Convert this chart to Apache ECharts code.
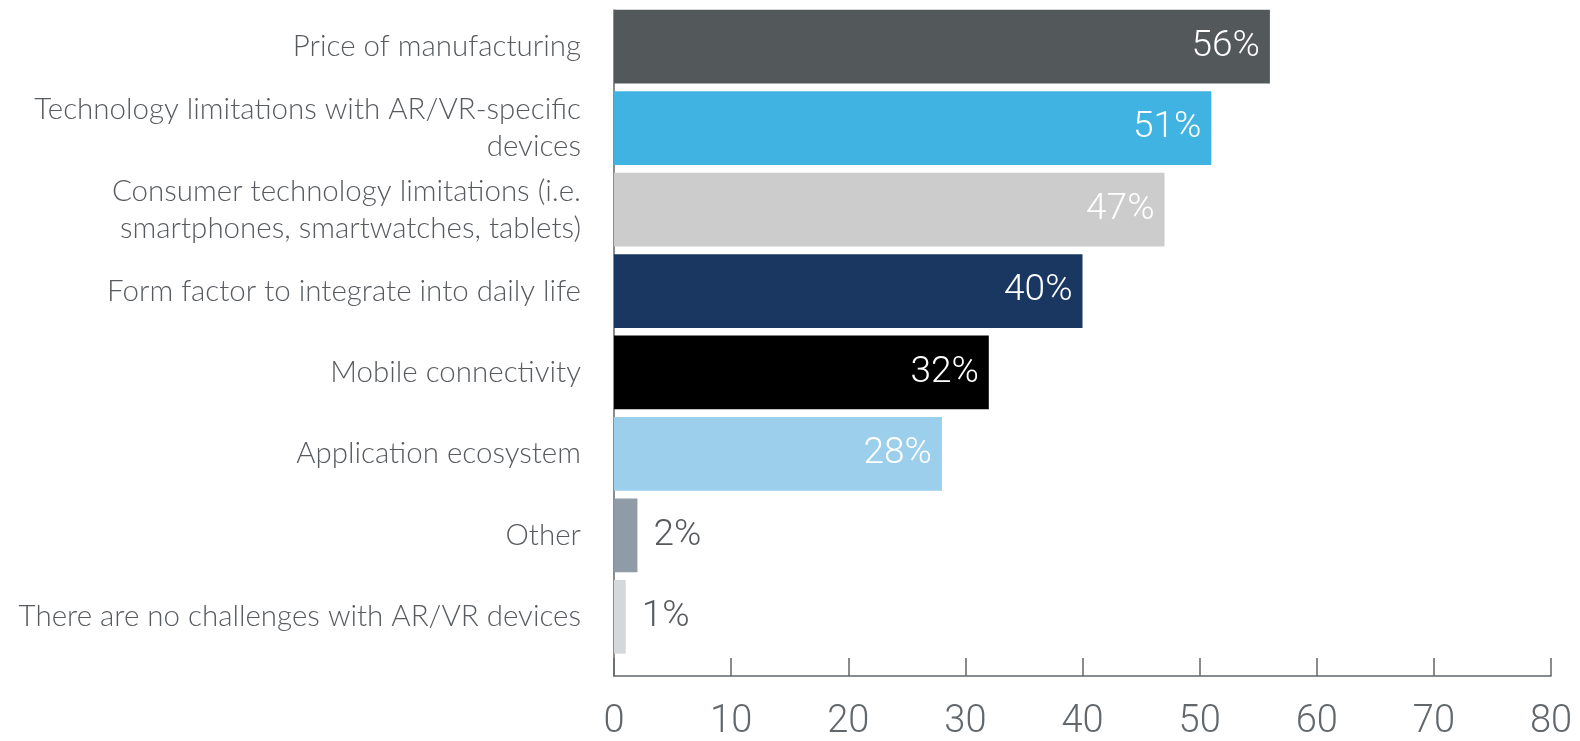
<!DOCTYPE html>
<html>
<head>
<meta charset="utf-8">
<style>
  html, body { margin: 0; padding: 0; background: #ffffff; }
  #chart { width: 1580px; height: 741px; }
</style>
<script src="https://cdn.jsdelivr.net/npm/echarts@6/dist/echarts.min.js"></script>
</head>
<body>
<div id="chart"></div>
<script>
// Challenges for AR/VR devices, share of respondents (%)
var categories = [
  'Price of manufacturing',
  'Technology limitations with AR/VR-specific\ndevices',
  'Consumer technology limitations (i.e.\nsmartphones, smartwatches, tablets)',
  'Form factor to integrate into daily life',
  'Mobile connectivity',
  'Application ecosystem',
  'Other',
  'There are no challenges with AR/VR devices'
];
var values = [56, 51, 47, 40, 32, 28, 2, 1];
var barColors = ['#53585b', '#41b3e2', '#cdcccd', '#1a3762', '#000000', '#9bcfec', '#8f9ba6', '#d5d8db'];
var tickValues = [0, 10, 20, 30, 40, 50, 60, 70, 80];

var axisGray = '#62676b';
var textGray = '#575b5f';

var chart = echarts.init(document.getElementById('chart'), null, { renderer: 'canvas' });

var seriesData = values.map(function (v, i) {
  var item = { value: v, itemStyle: { color: barColors[i] } };
  // short bars carry their label outside, in grey
  if (v < 10) {
    item.label = { position: 'right', distance: 16, color: textGray };
  }
  return item;
});

chart.setOption({
  animation: false,
  backgroundColor: '#ffffff',
  grid: [
    { left: 614, right: 29, top: 6, bottom: 83.5 },   // bars
    { left: 614, right: 29, top: 10, bottom: 60 }     // frame + value scale
  ],
  xAxis: [
    {
      gridIndex: 0, type: 'value', min: 0, max: 80, interval: 10,
      show: false
    },
    {
      gridIndex: 1, type: 'value', min: tickValues[0], max: tickValues[tickValues.length - 1], interval: 10,
      axisLine: { show: true, lineStyle: { color: axisGray, width: 1.5 } },
      axisTick: { show: true, inside: true, length: 18, lineStyle: { color: axisGray, width: 1.5 } },
      axisLabel: { color: axisGray, fontFamily: 'Roboto', fontWeight: 300, fontSize: 38, margin: 27 },
      splitLine: { show: false }
    }
  ],
  yAxis: [
    {
      gridIndex: 0, type: 'category', inverse: true, data: categories,
      axisLine: { show: false },
      axisTick: { show: false },
      axisLabel: {
        color: textGray, fontFamily: 'Lato', fontWeight: 300, fontSize: 29.5,
        lineHeight: 37, margin: 33, align: 'right'
      }
    },
    {
      gridIndex: 1, type: 'value', min: 0, max: 1,
      axisLine: { show: true, lineStyle: { color: axisGray, width: 1.5 } },
      axisTick: { show: false },
      axisLabel: { show: false },
      splitLine: { show: false }
    }
  ],
  series: [{
    type: 'bar',
    xAxisIndex: 0,
    yAxisIndex: 0,
    data: seriesData,
    barCategoryGap: '9.5%',
    label: {
      show: true,
      position: 'insideRight',
      distance: 10,
      color: '#ffffff',
      fontFamily: 'Roboto',
      fontWeight: 300,
      fontSize: 37,
      formatter: '{c}%'
    }
  }]
});
</script>
</body>
</html>
